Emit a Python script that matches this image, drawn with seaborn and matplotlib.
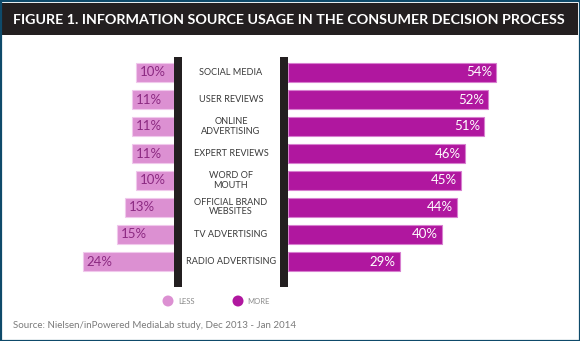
import matplotlib
matplotlib.use("Agg")
import matplotlib.pyplot as plt
import matplotlib.transforms as mtransforms
from matplotlib.patches import Rectangle, Ellipse
import seaborn as sns
import pandas as pd

categories = ["SOCIAL MEDIA", "USER REVIEWS", "ONLINE\nADVERTISING", "EXPERT REVIEWS",
              "WORD OF\nMOUTH", "OFFICIAL BRAND\nWEBSITES", "TV ADVERTISING", "RADIO ADVERTISING"]
less_vals = [10, 11, 11, 11, 10, 13, 15, 24]
more_vals = [54, 52, 51, 46, 45, 44, 40, 29]
legend_labels = ["LESS", "MORE"]
title = "FIGURE 1. INFORMATION SOURCE USAGE IN THE CONSUMER DECISION PROCESS"
source = "Source: Nielsen/inPowered MediaLab study, Dec 2013 - Jan 2014"

LESS_C = "#dc90d2"
MORE_C = "#b0179f"
W, H = 580, 341

sns.set_theme(style="white")
plt.rcParams["font.family"] = ["Lato", "DejaVu Sans"]

df = pd.DataFrame({"cat": categories, "less": less_vals, "more": more_vals})

fig = plt.figure(figsize=(W / 100, H / 100), dpi=100)
fig.patch.set_facecolor("white")

def fx(px):
    return px / W

def fy(py):
    return 1 - py / H

def box(x0, y0, x1, y1):
    return [fx(x0), fy(y1), fx(x1) - fx(x0), fy(y0) - fy(y1)]

y_top, y_bot = 57, 277
unit = 27.0
ylim = (7 + (y_bot - 261.5) / unit, -(72.5 - y_top) / unit)

# left axes (LESS), x grows leftwards
lx0, lx1 = 40, 174
axL = fig.add_axes(box(lx0, y_top, lx1, y_bot))
sns.barplot(data=df, x="less", y="cat", orient="h", color=LESS_C, ax=axL,
            width=0.70, edgecolor="#f0c8ec", linewidth=0.8, saturation=1)
axL.set_xlim((lx1 - lx0) / 3.8, 0)
axL.set_ylim(*ylim)

rx0, rx1 = 288, 560
axR = fig.add_axes(box(rx0, y_top, rx1, y_bot))
sns.barplot(data=df, x="more", y="cat", orient="h", color=MORE_C, ax=axR,
            width=0.70, edgecolor="#d77fcf", linewidth=0.8, saturation=1)
axR.set_xlim(0, (rx1 - rx0) / 3.85)
axR.set_ylim(*ylim)

for ax in (axL, axR):
    ax.axis("off")

# value labels
offL = mtransforms.ScaledTranslation(4 / 100, 0, fig.dpi_scale_trans)
offR = mtransforms.ScaledTranslation(-4 / 100, 0, fig.dpi_scale_trans)
for i, v in enumerate(less_vals):
    axL.text(v, i, f"{v}%", ha="left", va="center", fontsize=9.5,
             color="#8c2a82", transform=axL.transData + offL)
for i, v in enumerate(more_vals):
    axR.text(v, i, f"{v}%", ha="right", va="center", fontsize=9.5,
             color="white", transform=axR.transData + offR)

# category labels in the middle
tr = mtransforms.blended_transform_factory(fig.transFigure, axR.transData)
for i, c in enumerate(categories):
    fig.text(fx(231), i, c, ha="center", va="center", fontsize=6.6,
             color="#3a3a3a", linespacing=1.0, transform=tr)

# black dividers
for x0, x1 in ((174, 182), (280, 288)):
    fig.add_artist(Rectangle((fx(x0), fy(287)), fx(x1) - fx(x0), fy(57) - fy(287),
                             transform=fig.transFigure, color="#231f20", lw=0))

# title bar
fig.add_artist(Rectangle((fx(2), fy(35)), fx(578) - fx(2), fy(3) - fy(35),
                         transform=fig.transFigure, color="#231f20", lw=0))
fig.text(fx(289), fy(19.5), title, ha="center", va="center", color="white",
         fontsize=10.3, fontweight="bold")

# legend
for (cx, tx), lab, col in zip(((168, 178), (238, 247)), legend_labels, (LESS_C, MORE_C)):
    fig.add_artist(Ellipse((fx(cx), fy(301)), 11 / W, 11 / H, transform=fig.transFigure,
                           color=col, lw=0))
    fig.text(fx(tx), fy(301), lab, ha="left", va="center", fontsize=5.5, color="#8a8a8a")

fig.text(fx(13), fy(326), source, ha="left", va="center", fontsize=7, color="#7a7a7a")

# outer border
fig.add_artist(Rectangle((0.5 / W, 0.5 / H), 1 - 1 / W, 1 - 1 / H, transform=fig.transFigure,
                         fill=False, edgecolor="#0e4a6a", lw=1.6))

fig.savefig("out.png", dpi=100, facecolor="white")
